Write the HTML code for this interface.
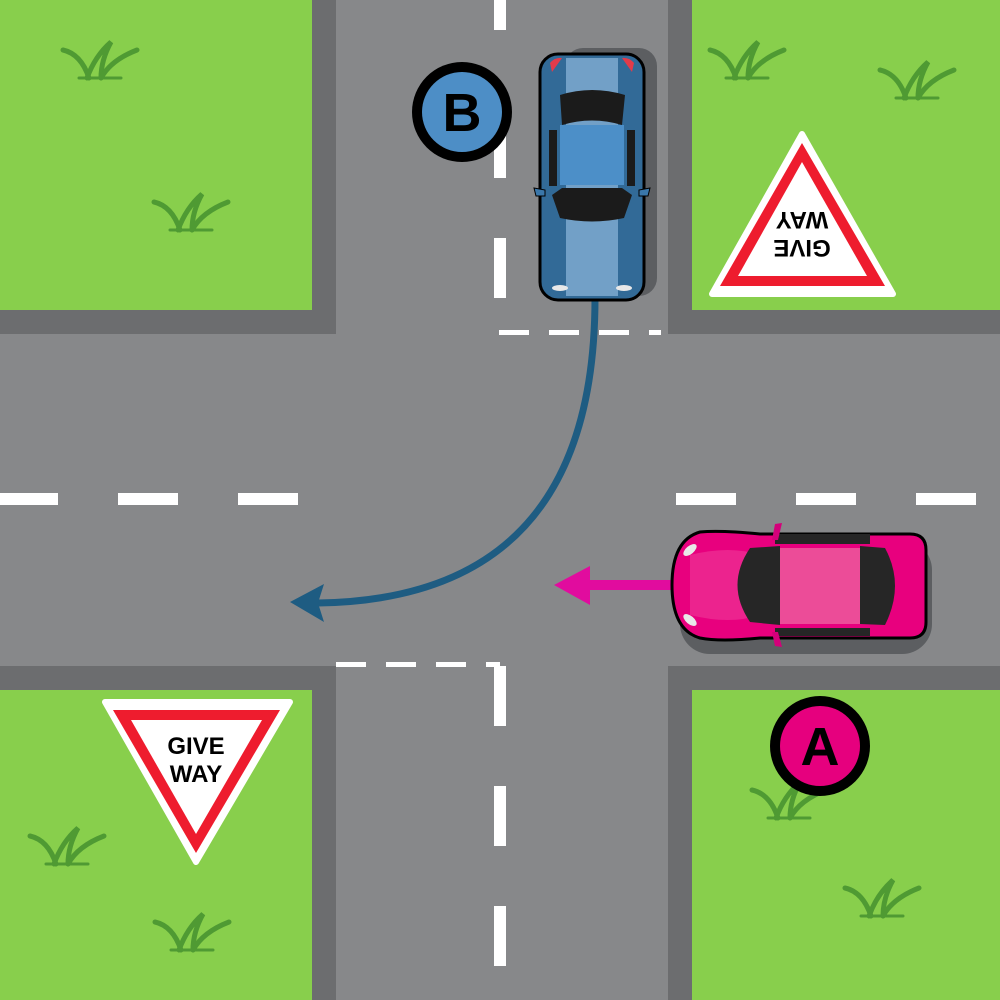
<!DOCTYPE html>
<html><head><meta charset="utf-8"><style>html,body{margin:0;padding:0;background:#87888a}svg{display:block}</style></head>
<body>
<svg width="1000" height="1000" viewBox="0 0 1000 1000" xmlns="http://www.w3.org/2000/svg">
<defs>
<g id="tuft" fill="none" stroke="#4f9a33" stroke-width="5" stroke-linecap="round">
<path d="M2 10 Q20 14 28 38"/>
<path d="M26 38 Q34 16 50 2 Q40 20 40 38"/>
<path d="M40 38 Q50 20 76 10"/>
<path d="M18 38 L60 38" stroke-width="3"/>
</g>
</defs>
<rect width="1000" height="1000" fill="#87888a"/>
<rect x="0" y="0" width="336" height="334" fill="#6c6d6f"/>
<rect x="668" y="0" width="332" height="334" fill="#6c6d6f"/>
<rect x="0" y="666" width="336" height="334" fill="#6c6d6f"/>
<rect x="668" y="666" width="332" height="334" fill="#6c6d6f"/>
<rect x="0" y="0" width="312" height="310" fill="#88cf4c"/>
<rect x="692" y="0" width="308" height="310" fill="#88cf4c"/>
<rect x="0" y="690" width="312" height="310" fill="#88cf4c"/>
<rect x="692" y="690" width="308" height="310" fill="#88cf4c"/>
<use href="#tuft" x="61" y="40"/>
<use href="#tuft" x="152" y="192"/>
<use href="#tuft" x="708" y="40"/>
<use href="#tuft" x="878" y="60"/>
<use href="#tuft" x="28" y="826"/>
<use href="#tuft" x="153" y="912"/>
<use href="#tuft" x="750" y="780"/>
<use href="#tuft" x="843" y="878"/>
<g fill="#fff">
<rect x="494" y="0" width="12" height="30"/>
<rect x="494" y="90" width="12" height="88"/>
<rect x="494" y="238" width="12" height="60"/>
<rect x="494" y="666" width="12" height="60"/>
<rect x="494" y="786" width="12" height="60"/>
<rect x="494" y="906" width="12" height="60"/>
<rect x="0" y="493" width="58" height="12"/>
<rect x="118" y="493" width="60" height="12"/>
<rect x="238" y="493" width="60" height="12"/>
<rect x="676" y="493" width="60" height="12"/>
<rect x="796" y="493" width="60" height="12"/>
<rect x="916" y="493" width="60" height="12"/>
<rect x="499" y="330" width="30" height="5"/>
<rect x="549" y="330" width="30" height="5"/>
<rect x="599" y="330" width="30" height="5"/>
<rect x="649" y="330" width="12" height="5"/>
<rect x="336" y="662" width="30" height="5"/>
<rect x="386" y="662" width="30" height="5"/>
<rect x="436" y="662" width="30" height="5"/>
<rect x="486" y="662" width="14" height="5"/>
</g>
<path d="M595 298 C595 480 520 600 318 603" stroke="#1e5c82" stroke-width="7" fill="none"/>
<polygon points="290,602 324,584 318,603 324,622" fill="#1e5c82"/>
<rect x="585" y="580" width="90" height="10" fill="#e10c9e"/>
<polygon points="554,585 590,566 590,605" fill="#e10c9e"/>
<rect x="565" y="48" width="92" height="248" rx="18" fill="#5c5e61"/>
<rect x="540" y="54" width="104" height="246" rx="18" fill="#326a97" stroke="#000" stroke-width="3"/>
<rect x="566" y="58" width="52" height="238" fill="#8db8dc" opacity="0.7"/>
<path d="M560 95 Q592 85 625 95 L622 125 Q592 116 562 125 Z" fill="#1b1b1b"/>
<rect x="560" y="125" width="64" height="60" fill="#4c8fc8"/>
<path d="M552 195 L562 188 L622 188 L632 195 L624 218 Q592 225 560 218 Z" fill="#1b1b1b"/>
<rect x="549" y="130" width="8" height="56" fill="#1b1b1b"/>
<rect x="627" y="130" width="8" height="56" fill="#1b1b1b"/>
<path d="M534 188 L545 190 L545 196 L536 196 Z" fill="#3a77aa" stroke="#000" stroke-width="1"/>
<path d="M650 188 L639 190 L639 196 L648 196 Z" fill="#3a77aa" stroke="#000" stroke-width="1"/>
<path d="M550 63 Q555 57 562 58 L552 72 Z" fill="#e23b4a"/>
<path d="M634 63 Q629 57 622 58 L632 72 Z" fill="#e23b4a"/>
<ellipse cx="560" cy="288" rx="8" ry="3" fill="#e8e8e8"/>
<ellipse cx="624" cy="288" rx="8" ry="3" fill="#e8e8e8"/>
<rect x="680" y="540" width="252" height="114" rx="30" fill="#5c5e61"/>
<path d="M700 532 Q720 530 760 534 L910 534 Q926 534 926 550 L926 622 Q926 638 910 638 L760 638 Q720 642 700 638 Q672 630 672 585 Q672 540 700 532 Z" fill="#e8007e" stroke="#000" stroke-width="3"/>
<path d="M690 555 Q730 545 760 555 L760 615 Q730 625 690 615 Z" fill="#ee3b9a" opacity="0.6"/>
<path d="M750 548 L780 546 L780 625 L750 622 Q725 585 750 548 Z" fill="#262626"/>
<rect x="780" y="548" width="80" height="76" fill="#ec4c98"/>
<path d="M860 546 L885 548 Q905 585 885 625 L860 624 Z" fill="#262626"/>
<rect x="775" y="534" width="95" height="10" fill="#262626"/>
<rect x="775" y="628" width="95" height="8" fill="#262626"/>
<path d="M775 524 L782 523 L778 540 L772 540 Z" fill="#d4007a"/>
<path d="M775 646 L782 647 L778 632 L772 632 Z" fill="#d4007a"/>
<ellipse cx="690" cy="550" rx="8" ry="4" fill="#e8e8e8" transform="rotate(-40 690 550)"/>
<ellipse cx="690" cy="620" rx="8" ry="4" fill="#e8e8e8" transform="rotate(40 690 620)"/>
<circle cx="462" cy="112" r="50" fill="#000"/>
<circle cx="462" cy="112" r="40" fill="#4d8ec6"/>
<text x="462" y="131" text-anchor="middle" font-family="Liberation Sans, sans-serif" font-weight="bold" font-size="54" fill="#000">B</text>
<circle cx="820" cy="746" r="50" fill="#000"/>
<circle cx="820" cy="746" r="40" fill="#e6007e"/>
<text x="820" y="765" text-anchor="middle" font-family="Liberation Sans, sans-serif" font-weight="bold" font-size="54" fill="#000">A</text>
<polygon points="105,702 290,702 196,862" fill="#fff" stroke="#fff" stroke-width="6" stroke-linejoin="round"/>
<polygon points="113,710 280,710 196,853" fill="#ee1c2e"/>
<polygon points="131,720 262,720 196,834" fill="#fff"/>
<text x="196" y="754" text-anchor="middle" font-family="Liberation Sans, sans-serif" font-weight="bold" font-size="24" fill="#000">GIVE</text>
<text x="196" y="782" text-anchor="middle" font-family="Liberation Sans, sans-serif" font-weight="bold" font-size="24" fill="#000">WAY</text>
<g transform="rotate(180 500 500)">
<polygon points="107,706 288,706 198,866" fill="#fff" stroke="#fff" stroke-width="6" stroke-linejoin="round"/>
<polygon points="115,714 280,714 198,857" fill="#ee1c2e"/>
<polygon points="133,724 262,724 198,838" fill="#fff"/>
<text x="198" y="760" text-anchor="middle" font-family="Liberation Sans, sans-serif" font-weight="bold" font-size="24" fill="#000">GIVE</text>
<text x="198" y="788" text-anchor="middle" font-family="Liberation Sans, sans-serif" font-weight="bold" font-size="24" fill="#000">WAY</text>
</g>
</svg>
</body></html>
